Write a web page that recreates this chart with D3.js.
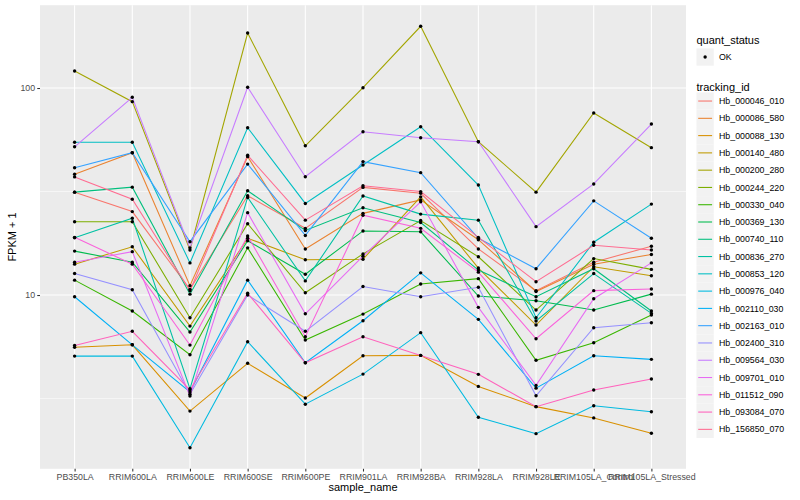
<!DOCTYPE html>
<html><head><meta charset="utf-8">
<script src="https://cdn.jsdelivr.net/npm/d3@7"></script>
<style>
body{margin:0;background:#fff}
svg{display:block}
text{font-family:"Liberation Sans",Arial,Helvetica,sans-serif}
</style>
</head><body>
<svg id="chart" width="800" height="500"></svg>
<script>
// ---------- data ----------
const samples = ["PB350LA","RRIM600LA","RRIM600LE","RRIM600SE","RRIM600PE","RRIM901LA","RRIM928BA","RRIM928LA","RRIM928LE","RRIM105LA_Control","RRIM105LA_Stressed"];
const trackingIds = ["Hb_000046_010","Hb_000086_580","Hb_000088_130","Hb_000140_480","Hb_000200_280","Hb_000244_220","Hb_000330_040","Hb_000369_130","Hb_000740_110","Hb_000836_270","Hb_000853_120","Hb_000976_040","Hb_002110_030","Hb_002163_010","Hb_002400_310","Hb_009564_030","Hb_009701_010","Hb_011512_090","Hb_093084_070","Hb_156850_070"];
const quantStatus = ["OK"];

const hb_000046_010 = [31.4, 25.3, 10.65, 30.2, 21.0, 33.1, 31.0, 16.7, 10.5, 14.4, 17.2];
const hb_000086_580 = [38.3, 48.7, 11.1, 46.6, 16.7, 24.8, 28.8, 18.5, 10.4, 14.1, 15.7];
const hb_000088_130 = [5.59, 5.75, 2.75, 4.68, 3.18, 5.09, 5.11, 3.62, 2.89, 2.55, 2.15];
const hb_000140_480 = [14.1, 17.1, 7.08, 18.8, 14.8, 14.9, 29.8, 13.5, 7.16, 13.7, 12.4];
const hb_000200_280 = [120.8, 85.9, 16.5, 184.4, 52.6, 100.3, 198.7, 55.0, 31.4, 75.7, 51.5];
const hb_000244_220 = [22.6, 22.6, 7.77, 22.1, 10.26, 15.8, 22.9, 15.3, 8.46, 15.0, 13.3];
const hb_000330_040 = [11.8, 8.37, 5.15, 16.9, 6.06, 8.09, 11.3, 12.0, 4.84, 5.88, 8.01];
const hb_000369_130 = [16.3, 14.4, 6.63, 18.3, 12.6, 20.4, 20.2, 9.89, 9.39, 8.46, 10.1];
const hb_000740_110 = [31.4, 33.2, 10.1, 31.9, 20.5, 26.4, 22.4, 13.2, 9.81, 13.4, 8.37];
const hb_000836_270 = [18.9, 23.5, 3.53, 29.6, 11.7, 30.1, 24.6, 23.0, 7.49, 12.7, 8.15];
const hb_000853_120 = [54.7, 54.7, 14.3, 64.3, 27.7, 42.5, 65.0, 34.0, 7.77, 18.0, 27.5];
const hb_000976_040 = [5.07, 5.07, 1.83, 5.95, 2.97, 4.15, 6.58, 2.57, 2.14, 2.92, 2.73];
const hb_002110_030 = [9.81, 5.75, 3.40, 11.8, 4.71, 7.51, 12.8, 7.63, 3.55, 5.09, 4.89];
const hb_002163_010 = [41.2, 48.7, 18.1, 42.9, 19.4, 44.1, 39.0, 18.8, 13.4, 28.5, 18.8];
const hb_002400_310 = [12.7, 10.6, 3.32, 10.0, 6.68, 11.0, 9.81, 10.9, 3.26, 6.95, 7.35];
const hb_009564_030 = [52.0, 90.2, 16.9, 100.8, 37.3, 61.5, 57.5, 55.0, 21.4, 34.4, 67.0];
const hb_009701_010 = [14.4, 16.2, 3.25, 25.0, 8.12, 15.4, 28.2, 8.72, 3.66, 9.60, 14.3];
const hb_011512_090 = [19.0, 14.1, 5.73, 19.3, 6.29, 24.3, 21.0, 12.9, 6.15, 10.5, 10.7];
const hb_093084_070 = [5.71, 6.68, 3.48, 10.2, 4.71, 6.29, 5.11, 4.14, 2.89, 3.48, 3.93];
const hb_156850_070 = [37.2, 29.0, 10.5, 47.3, 23.0, 33.7, 31.6, 19.0, 11.6, 17.4, 16.5];

const yTickValues = [10, 100];
const yTickLabels = ["10", "100"];

const seriesValues = [hb_000046_010, hb_000086_580, hb_000088_130, hb_000140_480, hb_000200_280,
  hb_000244_220, hb_000330_040, hb_000369_130, hb_000740_110, hb_000836_270, hb_000853_120,
  hb_000976_040, hb_002110_030, hb_002163_010, hb_002400_310, hb_009564_030, hb_009701_010,
  hb_011512_090, hb_093084_070, hb_156850_070];
const series = trackingIds.map((id, i) => ({id, values: seriesValues[i]}));

// ---------- style ----------
const palette = ["#F8766D","#EA8331","#D89000","#C09B00","#A3A500","#7CAE00","#39B600","#00BB4E","#00BF7D","#00C1A3","#00BFC4","#00BAE0","#00B0F6","#35A2FF","#9590FF","#C77CFF","#E76BF3","#FA62DB","#FF62BC","#FF6C91"];
const panel = {left: 40, right: 686, top: 5.2, bottom: 468.8};

const svg = d3.select("#chart");
svg.append("rect").attr("width", 800).attr("height", 500).attr("fill", "#fff");

// scales
const x = d3.scalePoint().domain(samples).range([panel.left, panel.right]).padding(0.6);
const allVals = seriesValues.flat();
const lmin = Math.log10(d3.min(allVals)), lmax = Math.log10(d3.max(allVals));
const span = lmax - lmin;
const y = d3.scaleLog()
  .domain([Math.pow(10, lmin - 0.05 * span), Math.pow(10, lmax + 0.05 * span)])
  .range([panel.bottom, panel.top]);
const color = d3.scaleOrdinal().domain(trackingIds).range(palette);

// panel background
svg.append("rect")
  .attr("x", panel.left).attr("y", panel.top)
  .attr("width", panel.right - panel.left).attr("height", panel.bottom - panel.top)
  .attr("fill", "#EBEBEB");

const grid = svg.append("g");
// minor horizontal grid (log midpoints between major breaks)
const majors = [1, 10, 100, 1000];
const minors = [];
for (let i = 0; i < majors.length - 1; i++) minors.push(Math.sqrt(majors[i] * majors[i + 1]));
const [d0, d1] = y.domain();
grid.selectAll("line.minor").data(minors.filter(v => v >= d0 && v <= d1)).join("line")
  .attr("x1", panel.left).attr("x2", panel.right)
  .attr("y1", d => y(d)).attr("y2", d => y(d))
  .attr("stroke", "#fff").attr("stroke-width", 0.55);
grid.selectAll("line.majory").data(yTickValues).join("line")
  .attr("x1", panel.left).attr("x2", panel.right)
  .attr("y1", d => y(d)).attr("y2", d => y(d))
  .attr("stroke", "#fff").attr("stroke-width", 1.07);
grid.selectAll("line.majorx").data(samples).join("line")
  .attr("x1", d => x(d)).attr("x2", d => x(d))
  .attr("y1", panel.top).attr("y2", panel.bottom)
  .attr("stroke", "#fff").attr("stroke-width", 1.07);

// lines
const line = d3.line().x((d, i) => x(samples[i])).y(d => y(d));
svg.append("g").selectAll("path").data(series).join("path")
  .attr("d", d => line(d.values))
  .attr("fill", "none")
  .attr("stroke", d => color(d.id))
  .attr("stroke-width", 1.07);

// points
const pts = series.flatMap(s => s.values.map((v, i) => ({s: samples[i], v})));
svg.append("g").selectAll("circle").data(pts).join("circle")
  .attr("cx", d => x(d.s)).attr("cy", d => y(d.v))
  .attr("r", 1.7).attr("fill", "#000");

// axes
const yAxis = svg.append("g").attr("transform", `translate(${panel.left},0)`)
  .call(d3.axisLeft(y).tickValues(yTickValues).tickFormat((d, i) => yTickLabels[i]).tickSize(2.75).tickPadding(2.2));
const xAxis = svg.append("g").attr("transform", `translate(0,${panel.bottom})`)
  .call(d3.axisBottom(x).tickSize(2.75).tickPadding(2.2));
[yAxis, xAxis].forEach(a => {
  a.select(".domain").remove();
  a.selectAll(".tick line").attr("stroke", "#333333").attr("stroke-width", 1.07);
  a.selectAll(".tick text").attr("fill", "#4D4D4D").style("font-size", "8.8px");
});

// axis titles
svg.append("text").attr("x", (panel.left + panel.right) / 2).attr("y", 491)
  .attr("text-anchor", "middle").style("font-size", "11px").attr("fill", "#000").text("sample_name");
svg.append("text").attr("transform", `translate(16,${(panel.top + panel.bottom) / 2}) rotate(-90)`)
  .attr("text-anchor", "middle").style("font-size", "11px").attr("fill", "#000").text("FPKM + 1");

// legends
const lg = svg.append("g");
const keyX = 696.5, keySize = 17.28, labelX = 719;
lg.append("text").attr("x", keyX).attr("y", 44).style("font-size", "11px").text("quant_status");
quantStatus.forEach((q, i) => {
  const ky = 48.4 + i * keySize;
  lg.append("rect").attr("x", keyX).attr("y", ky).attr("width", keySize).attr("height", keySize).attr("fill", "#F2F2F2");
  lg.append("circle").attr("cx", keyX + keySize / 2).attr("cy", ky + keySize / 2).attr("r", 1.7).attr("fill", "#000");
  lg.append("text").attr("x", labelX).attr("y", ky + keySize / 2 + 3.1).style("font-size", "8.8px").attr("fill", "#000").text(q);
});
lg.append("text").attr("x", keyX).attr("y", 91).style("font-size", "11px").text("tracking_id");
trackingIds.forEach((id, i) => {
  const ky = 92.4 + i * keySize;
  lg.append("rect").attr("x", keyX).attr("y", ky).attr("width", keySize).attr("height", keySize).attr("fill", "#F2F2F2");
  lg.append("line").attr("x1", keyX + 1.7).attr("x2", keyX + keySize - 1.7)
    .attr("y1", ky + keySize / 2).attr("y2", ky + keySize / 2)
    .attr("stroke", color(id)).attr("stroke-width", 1.07);
  lg.append("text").attr("x", labelX).attr("y", ky + keySize / 2 + 3.1).style("font-size", "8.8px").attr("fill", "#000").text(id);
});
</script>
</body></html>
